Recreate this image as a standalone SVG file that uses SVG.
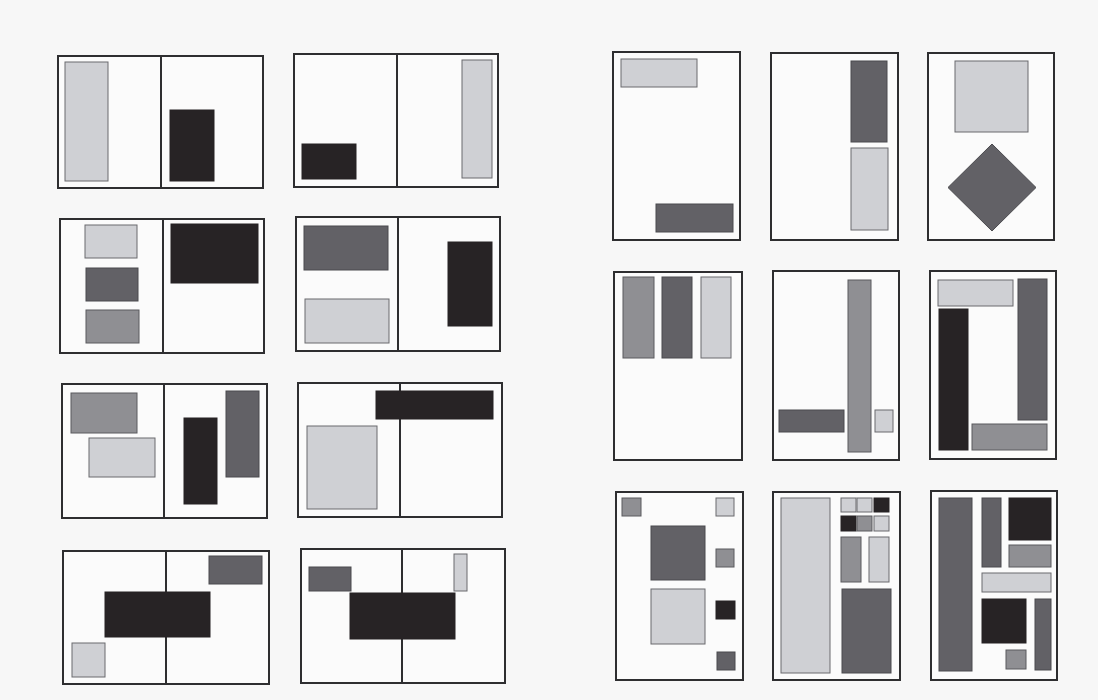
<svg xmlns="http://www.w3.org/2000/svg" width="1098" height="700" viewBox="0 0 1098 700">
<style>
.pg{fill:#fbfbfb;stroke:#2e2e30;stroke-width:2}
.dv{stroke:#2e2e30;stroke-width:2;fill:none}
.lt{fill:#cfd0d4;stroke:#6a6a6e;stroke-width:1}
.md{fill:#8f8f93;stroke:#5a5a5e;stroke-width:1}
.dk{fill:#626166;stroke:#4a4a4e;stroke-width:1}
.bk{fill:#272325;stroke:#272325;stroke-width:1}
</style>
<rect x="0" y="0" width="1098" height="700" fill="#f7f7f7"/>
<g id="spread1">
<rect class="pg" x="58" y="56" width="205" height="132"/><line class="dv" x1="161" y1="56" x2="161" y2="188"/>
<rect class="lt" x="65" y="62" width="43" height="119"/>
<rect class="bk" x="170" y="110" width="44" height="71"/>
</g>
<g id="spread2">
<rect class="pg" x="294" y="54" width="204" height="133"/><line class="dv" x1="397" y1="54" x2="397" y2="187"/>
<rect class="bk" x="302" y="144" width="54" height="35"/>
<rect class="lt" x="462" y="60" width="30" height="118"/>
</g>
<g id="spread3">
<rect class="pg" x="60" y="219" width="204" height="134"/><line class="dv" x1="163" y1="219" x2="163" y2="353"/>
<rect class="lt" x="85" y="225" width="52" height="33"/>
<rect class="dk" x="86" y="268" width="52" height="33"/>
<rect class="md" x="86" y="310" width="53" height="33"/>
<rect class="bk" x="171" y="224" width="87" height="59"/>
</g>
<g id="spread4">
<rect class="pg" x="296" y="217" width="204" height="134"/><line class="dv" x1="398" y1="217" x2="398" y2="351"/>
<rect class="dk" x="304" y="226" width="84" height="44"/>
<rect class="lt" x="305" y="299" width="84" height="44"/>
<rect class="bk" x="448" y="242" width="44" height="84"/>
</g>
<g id="spread5">
<rect class="pg" x="62" y="384" width="205" height="134"/><line class="dv" x1="164" y1="384" x2="164" y2="518"/>
<rect class="md" x="71" y="393" width="66" height="40"/>
<rect class="lt" x="89" y="438" width="66" height="39"/>
<rect class="bk" x="184" y="418" width="33" height="86"/>
<rect class="dk" x="226" y="391" width="33" height="86"/>
</g>
<g id="spread6">
<rect class="pg" x="298" y="383" width="204" height="134"/><line class="dv" x1="400" y1="383" x2="400" y2="517"/>
<rect class="bk" x="376" y="391" width="117" height="28"/>
<rect class="lt" x="307" y="426" width="70" height="83"/>
</g>
<g id="spread7">
<rect class="pg" x="63" y="551" width="206" height="133"/><line class="dv" x1="166" y1="551" x2="166" y2="684"/>
<rect class="bk" x="105" y="592" width="105" height="45"/>
<rect class="dk" x="209" y="556" width="53" height="28"/>
<rect class="lt" x="72" y="643" width="33" height="34"/>
</g>
<g id="spread8">
<rect class="pg" x="301" y="549" width="204" height="134"/><line class="dv" x1="402" y1="549" x2="402" y2="683"/>
<rect class="dk" x="309" y="567" width="42" height="24"/>
<rect class="lt" x="454" y="554" width="13" height="37"/>
<rect class="bk" x="350" y="593" width="105" height="46"/>
</g>
<g id="page1">
<rect class="pg" x="613" y="52" width="127" height="188"/>
<rect class="lt" x="621" y="59" width="76" height="28"/>
<rect class="dk" x="656" y="204" width="77" height="28"/>
</g>
<g id="page2">
<rect class="pg" x="771" y="53" width="127" height="187"/>
<rect class="dk" x="851" y="61" width="36" height="81"/>
<rect class="lt" x="851" y="148" width="37" height="82"/>
</g>
<g id="page3">
<rect class="pg" x="928" y="53" width="126" height="187"/>
<rect class="lt" x="955" y="61" width="73" height="71"/>
<polygon class="dk" points="992,144 1036,187.5 992,231 948,187.5"/>
</g>
<g id="page4">
<rect class="pg" x="614" y="272" width="128" height="188"/>
<rect class="md" x="623" y="277" width="31" height="81"/>
<rect class="dk" x="662" y="277" width="30" height="81"/>
<rect class="lt" x="701" y="277" width="30" height="81"/>
</g>
<g id="page5">
<rect class="pg" x="773" y="271" width="126" height="189"/>
<rect class="md" x="848" y="280" width="23" height="172"/>
<rect class="dk" x="779" y="410" width="65" height="22"/>
<rect class="lt" x="875" y="410" width="18" height="22"/>
</g>
<g id="page6">
<rect class="pg" x="930" y="271" width="126" height="188"/>
<rect class="lt" x="938" y="280" width="75" height="26"/>
<rect class="dk" x="1018" y="279" width="29" height="141"/>
<rect class="bk" x="939" y="309" width="29" height="141"/>
<rect class="md" x="972" y="424" width="75" height="26"/>
</g>
<g id="page7">
<rect class="pg" x="616" y="492" width="127" height="188"/>
<rect class="md" x="622" y="498" width="19" height="18"/>
<rect class="lt" x="716" y="498" width="18" height="18"/>
<rect class="dk" x="651" y="526" width="54" height="54"/>
<rect class="md" x="716" y="549" width="18" height="18"/>
<rect class="lt" x="651" y="589" width="54" height="55"/>
<rect class="bk" x="716" y="601" width="19" height="18"/>
<rect class="dk" x="717" y="652" width="18" height="18"/>
</g>
<g id="page8">
<rect class="pg" x="773" y="492" width="127" height="188"/>
<rect class="lt" x="781" y="498" width="49" height="175"/>
<rect class="lt" x="841" y="498" width="15" height="14"/>
<rect class="lt" x="857" y="498" width="15" height="14"/>
<rect class="bk" x="874" y="498" width="15" height="14"/>
<rect class="bk" x="841" y="516" width="15" height="15"/>
<rect class="md" x="857" y="516" width="15" height="15"/>
<rect class="lt" x="874" y="516" width="15" height="15"/>
<rect class="md" x="841" y="537" width="20" height="45"/>
<rect class="lt" x="869" y="537" width="20" height="45"/>
<rect class="dk" x="842" y="589" width="49" height="84"/>
</g>
<g id="page9">
<rect class="pg" x="931" y="491" width="126" height="189"/>
<rect class="dk" x="939" y="498" width="33" height="173"/>
<rect class="dk" x="982" y="498" width="19" height="69"/>
<rect class="bk" x="1009" y="498" width="42" height="42"/>
<rect class="md" x="1009" y="545" width="42" height="22"/>
<rect class="lt" x="982" y="573" width="69" height="19"/>
<rect class="bk" x="982" y="599" width="44" height="44"/>
<rect class="dk" x="1035" y="599" width="16" height="71"/>
<rect class="md" x="1006" y="650" width="20" height="19"/>
</g>
</svg>
